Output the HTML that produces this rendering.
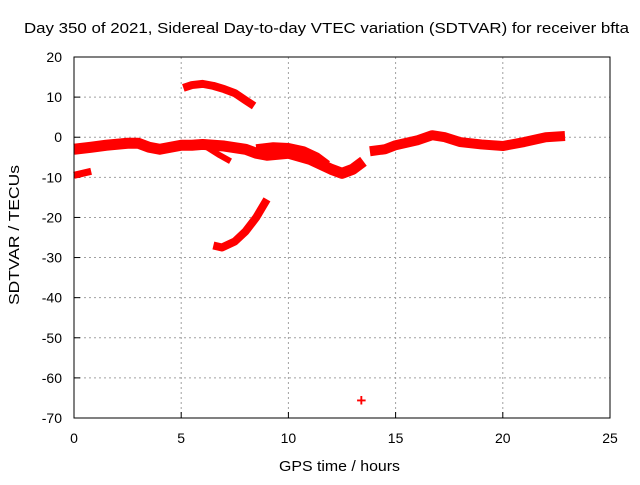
<!DOCTYPE html>
<html><head><meta charset="utf-8"><style>
body{margin:0;background:#fff}
svg text{font-family:"Liberation Sans",sans-serif;font-size:14px;fill:#000}
</style></head><body>
<svg id="c" width="640" height="480">
<rect width="640" height="480" fill="#fff"/>
<text x="24" y="33" textLength="605" lengthAdjust="spacingAndGlyphs" style="font-size:15px">Day 350 of 2021, Sidereal Day-to-day VTEC variation (SDTVAR) for receiver bfta</text>
<text x="279" y="471" textLength="121" lengthAdjust="spacingAndGlyphs" style="font-size:15px">GPS time / hours</text>
<text transform="translate(19,305) rotate(-90)" textLength="140" lengthAdjust="spacingAndGlyphs" style="font-size:15px">SDTVAR / TECUs</text>
<g id="grid"></g><g id="marks"></g>
<rect x="74" y="57" width="536" height="361" fill="none" stroke="#000" stroke-width="1"/>
</svg>
<script>
const xTicks=[0,5,10,15,20,25];
const yTicks=[20,10,0,-10,-20,-30,-40,-50,-60,-70];
const mainHours=[0,0.8,1.5,2.5,3,3.5,4,4.5,5,5.5,6,7,8,8.5,9,10,11,12,12.5,13,13.5];
const mainVals=[-3,-2.5,-2,-1.5,-1.5,-2.5,-3,-2.5,-2,-2,-1.8,-2.2,-3,-4,-4.5,-4,-5.5,-8,-9,-8,-6];
const lateHours=[13.8,14.5,15,16,16.7,17.3,18,19,20,21,22,22.9];
const lateVals=[-3.5,-3,-2,-0.8,0.5,0,-1.2,-1.8,-2.2,-1.2,0,0.3];
const upperBranchHours=[8.5,9.3,10,10.7,11.3,11.8];
const upperBranchVals=[-3,-2.5,-2.7,-3.5,-5,-7];
const diagHours=[6.2,6.8,7.3];
const diagVals=[-2.5,-4.5,-6];
const leftLowHours=[0,0.4,0.8];
const leftLowVals=[-9.5,-9,-8.5];
const upperArcHours=[5.1,5.5,6,6.5,7,7.5,8,8.4];
const upperArcVals=[12.3,13,13.3,12.8,12,11,9.2,7.8];
const lowerArcHours=[6.5,6.9,7.5,8,8.5,9];
const lowerArcVals=[-27,-27.5,-26,-23.5,-20,-15.5];
const outlierHour=[13.4];
const outlierVal=[-65.5];
const X=h=>74+h*536/25, Y=v=>57+(20-v)*361/90;
const NS='http://www.w3.org/2000/svg';
const grid=document.getElementById('grid'), marks=document.getElementById('marks');
function mk(tag,attrs,parent){const e=document.createElementNS(NS,tag);for(const k in attrs)e.setAttribute(k,attrs[k]);parent.appendChild(e);return e;}
xTicks.forEach(t=>{
  if(t>0&&t<25){const l=mk('line',{x1:X(t),x2:X(t),y1:57,y2:418,stroke:'#a0a0a0','stroke-dasharray':'2,3'},grid);
  
  }
  const tk=mk('line',{x1:X(t),x2:X(t),y1:418,y2:412,stroke:'#000'},grid);
  
  
  const tx=mk('text',{x:X(t),y:443,'text-anchor':'middle'},grid);tx.textContent=t;
  
  
});
yTicks.forEach(t=>{
  if(t<20&&t>-70){const l=mk('line',{x1:74,x2:610,y1:Y(t),y2:Y(t),stroke:'#a0a0a0','stroke-dasharray':'2,3'},grid);
  
  }
  const tk=mk('line',{x1:74,x2:80,y1:Y(t),y2:Y(t),stroke:'#000'},grid);
  
  
  const tx=mk('text',{x:62,y:Y(t)+5,'text-anchor':'end'},grid);tx.textContent=t;
  
  
});
function series(hs,vs,w,name){
  const p=mk('polyline',{points:hs.map((h,i)=>X(h)+','+Y(vs[i])).join(' '),fill:'none',stroke:'#f00','stroke-width':w,'stroke-linejoin':'round'},marks);
  
  
}
series(mainHours,mainVals,11,'main-band-series');
series(lateHours,lateVals,10,'late-band-series');
series(upperBranchHours,upperBranchVals,10,'upper-branch-series');
series(diagHours,diagVals,6,'diagonal-branch-series');
series(leftLowHours,leftLowVals,7,'left-low-series');
series(upperArcHours,upperArcVals,8,'upper-arc-series');
series(lowerArcHours,lowerArcVals,8,'lower-arc-series');
outlierHour.forEach((h,i)=>{
  const t=mk('text',{x:X(h),y:Y(outlierVal[i])+6,'text-anchor':'middle',style:'fill:#f00;font-size:17px;font-weight:bold'},marks);
  t.textContent='+';
  
  
});
</script>
</body></html>
